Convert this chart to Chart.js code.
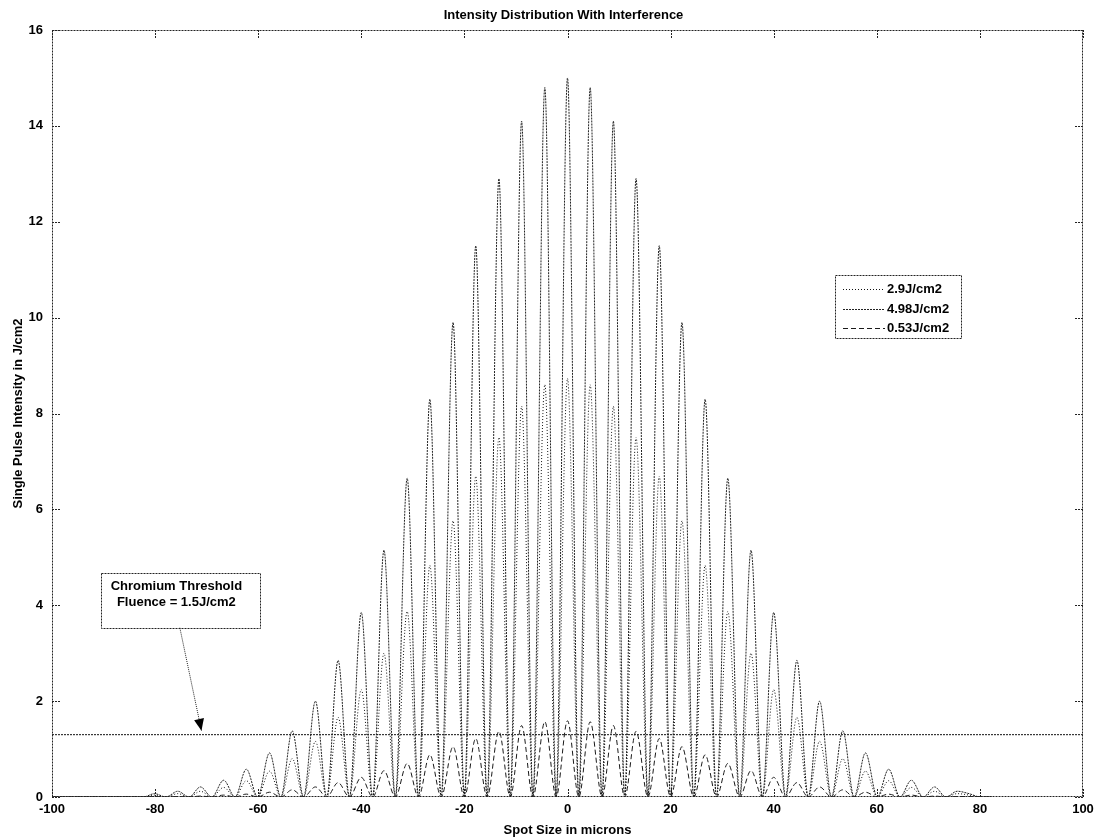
<!DOCTYPE html>
<html>
<head>
<meta charset="utf-8">
<title>Intensity Distribution With Interference</title>
<script src="https://cdn.jsdelivr.net/npm/chart.js@4.4.1/dist/chart.umd.min.js"></script>
<style>
  html, body { margin: 0; padding: 0; background: #fff; }
  #wrap { width: 1099px; height: 838px; }
</style>
</head>
<body>
<div id="wrap"><canvas id="intensityChart" width="1099" height="838"></canvas></div>
<script>
// spot position in microns: fringe peaks and the zeros between them
const spotX = [
  -100, -82.3, -80.1, -77.9, -75.6, -73.4, -71.2, -69.0, -66.7, -64.5, -62.3, -60.1,
  -57.8, -55.6, -53.4, -51.2, -48.9, -46.7, -44.5, -42.3, -40.0, -37.8, -35.6, -33.4,
  -31.1, -28.9, -26.7, -24.5, -22.2, -20.0, -17.8, -15.6, -13.3, -11.1, -8.9, -6.7,
  -4.4, -2.2, 0,
  2.2, 4.4, 6.7, 8.9, 11.1, 13.3, 15.6, 17.8, 20.0, 22.2, 24.5, 26.7,
  28.9, 31.1, 33.4, 35.6, 37.8, 40.0, 42.3, 44.5, 46.7, 48.9, 51.2, 53.4,
  55.6, 57.8, 60.1, 62.3, 64.5, 66.7, 69.0, 71.2, 73.4, 75.6, 77.9, 80.1, 82.3, 100
];

// single pulse intensity, J/cm2
const fluence29 = [
  0, 0, 0.04, 0, 0.07, 0, 0.12, 0, 0.2, 0, 0.34, 0,
  0.54, 0, 0.8, 0, 1.16, 0, 1.66, 0, 2.24, 0, 3.0, 0,
  3.87, 0, 4.83, 0, 5.76, 0, 6.69, 0, 7.5, 0, 8.15, 0,
  8.6, 0, 8.73,
  0, 8.6, 0, 8.15, 0, 7.5, 0, 6.69, 0, 5.76, 0, 4.83,
  0, 3.87, 0, 3.0, 0, 2.24, 0, 1.66, 0, 1.16, 0, 0.8,
  0, 0.54, 0, 0.34, 0, 0.2, 0, 0.12, 0, 0.07, 0.04, 0, 0
];

const fluence498 = [
  0, 0, 0.07, 0, 0.12, 0, 0.21, 0, 0.35, 0, 0.58, 0,
  0.92, 0, 1.38, 0, 2.0, 0, 2.85, 0, 3.85, 0, 5.15, 0,
  6.65, 0, 8.3, 0, 9.9, 0, 11.5, 0, 12.9, 0, 14.1, 0,
  14.8, 0, 15.0,
  0, 14.8, 0, 14.1, 0, 12.9, 0, 11.5, 0, 9.9, 0, 8.3,
  0, 6.65, 0, 5.15, 0, 3.85, 0, 2.85, 0, 2.0, 0, 1.38,
  0, 0.92, 0, 0.58, 0, 0.35, 0, 0.21, 0, 0.12, 0.07, 0, 0
];

const fluence053 = [
  0, 0, 0.01, 0, 0.01, 0, 0.02, 0, 0.04, 0, 0.06, 0,
  0.1, 0, 0.15, 0, 0.21, 0, 0.3, 0, 0.41, 0, 0.55, 0,
  0.7, 0, 0.88, 0, 1.05, 0, 1.22, 0, 1.37, 0, 1.49, 0,
  1.57, 0, 1.59,
  0, 1.57, 0, 1.49, 0, 1.37, 0, 1.22, 0, 1.05, 0, 0.88,
  0, 0.7, 0, 0.55, 0, 0.41, 0, 0.3, 0, 0.21, 0, 0.15,
  0, 0.1, 0, 0.06, 0, 0.04, 0, 0.02, 0, 0.01, 0.01, 0, 0
];

const thresholdX = [-100, 100];
const thresholdY = [1.3, 1.3];

const xTicks = [-100, -80, -60, -40, -20, 0, 20, 40, 60, 80, 100];
const yTicks = [0, 2, 4, 6, 8, 10, 12, 14, 16];

const seriesLabels = ['2.9J/cm2', '4.98J/cm2', '0.53J/cm2'];
const noteLines = ['Chromium Threshold', 'Fluence = 1.5J/cm2'];

const FONT = '"Liberation Sans", Arial, sans-serif';
Chart.defaults.font.family = FONT;
Chart.defaults.font.size = 13;
Chart.defaults.font.weight = 'bold';
Chart.defaults.color = '#000';

const toPts = ys => spotX.map((x, i) => ({ x: x, y: ys[i] }));

const styles = [
  { color: '#111111', dash: [1, 2] },
  { color: '#222222', dash: [2, 1] },
  { color: '#1a1a1a', dash: [5, 3] }
];

const decorations = {
  id: 'decorations',
  afterDraw(chart) {
    const { ctx, chartArea: a, scales: { x, y } } = chart;
    ctx.save();

    // dotted frame and inward ticks on all sides
    ctx.strokeStyle = '#222';
    ctx.lineWidth = 1;
    ctx.setLineDash([2, 1]);
    ctx.strokeRect(a.left + 0.5, a.top + 0.5, a.right - a.left - 1, a.bottom - a.top - 1);
    ctx.beginPath();
    xTicks.forEach(v => {
      const px = Math.round(x.getPixelForValue(v)) + 0.5;
      ctx.moveTo(px, a.bottom); ctx.lineTo(px, a.bottom - 9);
      ctx.moveTo(px, a.top); ctx.lineTo(px, a.top + 9);
    });
    yTicks.forEach(v => {
      const py = Math.round(y.getPixelForValue(v)) + 0.5;
      ctx.moveTo(a.left, py); ctx.lineTo(a.left + 9, py);
      ctx.moveTo(a.right, py); ctx.lineTo(a.right - 9, py);
    });
    ctx.stroke();

    // title
    ctx.setLineDash([]);
    ctx.fillStyle = '#000';
    ctx.font = 'bold 13px ' + FONT;
    ctx.textAlign = 'center';
    ctx.textBaseline = 'middle';
    ctx.fillText('Intensity Distribution With Interference', (a.left + a.right) / 2 - 4, 15);

    // legend box
    const lx = 835, ly = 275, lw = 126, lh = 63;
    ctx.fillStyle = '#fff';
    ctx.fillRect(lx, ly, lw, lh);
    ctx.strokeStyle = '#222';
    ctx.setLineDash([2, 1]);
    ctx.strokeRect(lx + 0.5, ly + 0.5, lw, lh);
    const rows = [289, 309, 328];
    seriesLabels.forEach((label, i) => {
      ctx.strokeStyle = styles[i].color;
      ctx.setLineDash(styles[i].dash);
      ctx.beginPath();
      ctx.moveTo(lx + 8, rows[i] + 0.5);
      ctx.lineTo(lx + 50, rows[i] + 0.5);
      ctx.stroke();
      ctx.fillStyle = '#000';
      ctx.textAlign = 'left';
      ctx.fillText(label, lx + 52, rows[i]);
    });

    // threshold note with arrow
    const bx0 = x.getPixelForValue(-90.5), bx1 = x.getPixelForValue(-59.7);
    const by0 = y.getPixelForValue(4.68), by1 = y.getPixelForValue(3.53);
    ctx.fillStyle = '#fff';
    ctx.fillRect(bx0, by0, bx1 - bx0, by1 - by0);
    ctx.strokeStyle = '#222';
    ctx.setLineDash([2, 1]);
    ctx.strokeRect(Math.round(bx0) + 0.5, Math.round(by0) + 0.5, Math.round(bx1 - bx0), Math.round(by1 - by0));
    ctx.fillStyle = '#000';
    ctx.textAlign = 'center';
    ctx.fillText(noteLines[0], (bx0 + bx1) / 2 - 4, by0 + 14);
    ctx.fillText(noteLines[1], (bx0 + bx1) / 2 - 4, by0 + 30);

    const ax0 = x.getPixelForValue(-75.2), ay0 = by1;
    const ax1 = x.getPixelForValue(-71.0), ay1 = y.getPixelForValue(1.38);
    ctx.strokeStyle = '#222';
    ctx.setLineDash([1, 1]);
    ctx.beginPath();
    ctx.moveTo(ax0, ay0);
    ctx.lineTo(ax1, ay1);
    ctx.stroke();
    const ang = Math.atan2(ay1 - ay0, ax1 - ax0);
    ctx.setLineDash([]);
    ctx.fillStyle = '#000';
    ctx.beginPath();
    ctx.moveTo(ax1, ay1);
    ctx.lineTo(ax1 - 12 * Math.cos(ang) + 5 * Math.sin(ang), ay1 - 12 * Math.sin(ang) - 5 * Math.cos(ang));
    ctx.lineTo(ax1 - 12 * Math.cos(ang) - 5 * Math.sin(ang), ay1 - 12 * Math.sin(ang) + 5 * Math.cos(ang));
    ctx.closePath();
    ctx.fill();

    ctx.restore();
  }
};

new Chart(document.getElementById('intensityChart'), {
  type: 'line',
  data: {
    datasets: [
      {
        label: seriesLabels[0],
        data: toPts(fluence29),
        borderColor: styles[0].color,
        borderDash: styles[0].dash,
        borderWidth: 1,
        pointRadius: 0,
        cubicInterpolationMode: 'monotone'
      },
      {
        label: seriesLabels[1],
        data: toPts(fluence498),
        borderColor: styles[1].color,
        borderDash: styles[1].dash,
        borderWidth: 1,
        pointRadius: 0,
        cubicInterpolationMode: 'monotone'
      },
      {
        label: seriesLabels[2],
        data: toPts(fluence053),
        borderColor: styles[2].color,
        borderDash: styles[2].dash,
        borderWidth: 1,
        pointRadius: 0,
        cubicInterpolationMode: 'monotone'
      },
      {
        label: 'threshold',
        data: thresholdX.map((x, i) => ({ x: x, y: thresholdY[i] })),
        borderColor: '#111',
        borderDash: [2, 1],
        borderWidth: 1,
        pointRadius: 0
      }
    ]
  },
  options: {
    responsive: false,
    animation: false,
    layout: { padding: { top: 30, right: 16, left: 0, bottom: 0 } },
    plugins: {
      legend: { display: false },
      title: { display: false },
      tooltip: { enabled: false }
    },
    scales: {
      x: {
        type: 'linear',
        min: -100,
        max: 100,
        afterBuildTicks: s => { s.ticks = xTicks.map(v => ({ value: v })); },
        afterFit: s => { s.height = 41; },
        grid: { display: false, drawTicks: false },
        border: { display: false },
        ticks: { padding: 5, maxRotation: 0, autoSkip: false, color: '#000' },
        title: { display: true, text: 'Spot Size in microns', padding: { top: 0, bottom: 0 }, color: '#000' }
      },
      y: {
        type: 'linear',
        min: 0,
        max: 16,
        afterBuildTicks: s => { s.ticks = yTicks.map(v => ({ value: v })); },
        afterFit: s => { s.width = 52; },
        grid: { display: false, drawTicks: false },
        border: { display: false },
        ticks: { padding: 9, autoSkip: false, color: '#000' },
        title: { display: true, text: 'Single Pulse Intensity in J/cm2', padding: { top: 11, bottom: 0 }, color: '#000' }
      }
    }
  },
  plugins: [decorations]
});
</script>
</body>
</html>
